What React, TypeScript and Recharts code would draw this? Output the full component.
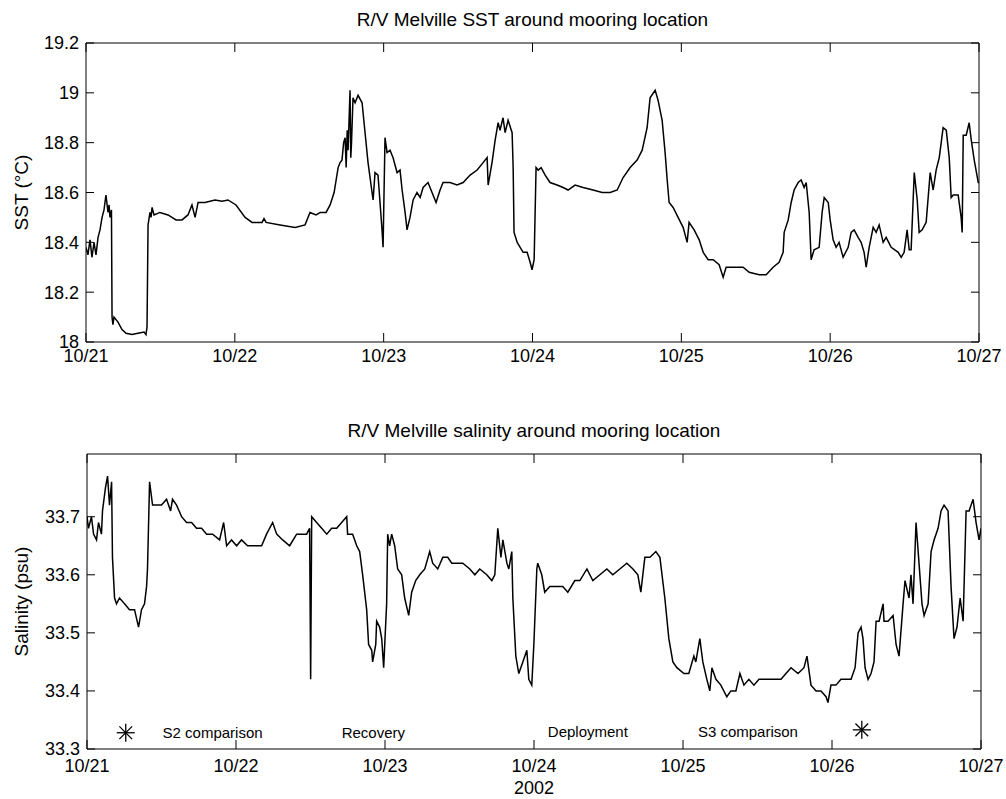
import { LineChart, ComposedChart, Line, Scatter, XAxis, YAxis, Label } from "recharts";

// time in days after 10/21 00:00 (2002)
const dayTicks = [0, 1, 2, 3, 4, 5, 6];
const dayLabels = ["10/21", "10/22", "10/23", "10/24", "10/25", "10/26", "10/27"];

const sstTicks = [18, 18.2, 18.4, 18.6, 18.8, 19, 19.2];
const salTicks = [33.3, 33.4, 33.5, 33.6, 33.7];

const sstDay = [
  0, 0.013, 0.027, 0.04, 0.054, 0.067, 0.081, 0.094, 0.108, 0.121, 0.134, 0.148, 0.155, 0.161, 0.171,
  0.175, 0.181, 0.188, 0.215, 0.242, 0.269, 0.309, 0.349, 0.39, 0.403, 0.41, 0.417, 0.43, 0.437, 0.444,
  0.457, 0.497, 0.551, 0.605, 0.645, 0.685, 0.712, 0.733, 0.753, 0.8, 0.867, 0.914, 0.954, 1.008, 1.069,
  1.116, 1.183, 1.196, 1.21, 1.304, 1.405, 1.472, 1.505, 1.546, 1.573, 1.613, 1.64, 1.667, 1.694, 1.707,
  1.72, 1.731, 1.741, 1.748, 1.755, 1.761, 1.768, 1.774, 1.779, 1.784, 1.794, 1.808, 1.828, 1.855, 1.875,
  1.895, 1.922, 1.929, 1.942, 1.962, 1.989, 1.996, 2.009, 2.023, 2.043, 2.063, 2.09, 2.11, 2.124, 2.144,
  2.157, 2.177, 2.198, 2.224, 2.245, 2.265, 2.298, 2.325, 2.352, 2.379, 2.399, 2.446, 2.493, 2.534, 2.581,
  2.628, 2.668, 2.695, 2.702, 2.728, 2.749, 2.769, 2.782, 2.802, 2.816, 2.836, 2.863, 2.87, 2.876, 2.897,
  2.917, 2.937, 2.964, 2.984, 2.997, 3.011, 3.024, 3.038, 3.058, 3.085, 3.118, 3.165, 3.206, 3.239, 3.286,
  3.34, 3.407, 3.468, 3.522, 3.569, 3.609, 3.656, 3.703, 3.737, 3.77, 3.79, 3.824, 3.844, 3.871, 3.891,
  3.905, 3.918, 3.945, 3.978, 4.012, 4.039, 4.052, 4.086, 4.12, 4.147, 4.18, 4.214, 4.254, 4.281, 4.301,
  4.355, 4.415, 4.456, 4.523, 4.57, 4.617, 4.657, 4.684, 4.691, 4.718, 4.738, 4.758, 4.785, 4.805, 4.825,
  4.839, 4.859, 4.872, 4.892, 4.926, 4.946, 4.96, 4.987, 5.0, 5.02, 5.04, 5.06, 5.087, 5.121, 5.141,
  5.161, 5.188, 5.208, 5.228, 5.242, 5.262, 5.289, 5.309, 5.329, 5.356, 5.376, 5.41, 5.457, 5.477, 5.497,
  5.517, 5.531, 5.544, 5.565, 5.585, 5.598, 5.618, 5.645, 5.672, 5.692, 5.712, 5.733, 5.759, 5.78, 5.8,
  5.813, 5.827, 5.86, 5.88, 5.887, 5.894, 5.914, 5.934, 5.948, 5.968, 5.995, 6.0,
];
const sstValue = [
  18.38, 18.35, 18.41, 18.34, 18.4, 18.35, 18.42, 18.45, 18.5, 18.53, 18.59, 18.52, 18.55, 18.5, 18.53,
  18.1, 18.07, 18.1, 18.08, 18.05, 18.035, 18.03, 18.035, 18.04, 18.03, 18.06, 18.47, 18.52, 18.5, 18.54,
  18.51, 18.52, 18.51, 18.49, 18.49, 18.51, 18.55, 18.5, 18.56, 18.56, 18.57, 18.565, 18.57, 18.55, 18.5,
  18.48, 18.48, 18.495, 18.48, 18.47, 18.46, 18.47, 18.52, 18.51, 18.52, 18.52, 18.55, 18.6, 18.7, 18.72,
  18.73, 18.8, 18.82, 18.7, 18.85, 18.77, 18.9, 19.01, 18.74, 18.8, 18.98, 18.96, 18.99, 18.96, 18.84,
  18.72, 18.6, 18.57, 18.68, 18.67, 18.45, 18.38, 18.82, 18.76, 18.77, 18.74, 18.68, 18.69, 18.61, 18.52,
  18.45, 18.5, 18.57, 18.6, 18.58, 18.62, 18.64, 18.6, 18.56, 18.61, 18.64, 18.64, 18.63, 18.64, 18.67,
  18.69, 18.72, 18.74, 18.63, 18.72, 18.81, 18.88, 18.85, 18.9, 18.84, 18.89, 18.84, 18.7, 18.44, 18.4,
  18.38, 18.36, 18.36, 18.32, 18.29, 18.33, 18.7, 18.69, 18.7, 18.67, 18.64, 18.63, 18.62, 18.61, 18.63,
  18.62, 18.61, 18.6, 18.6, 18.61, 18.66, 18.7, 18.73, 18.77, 18.86, 18.98, 19.01, 18.97, 18.89, 18.76,
  18.65, 18.56, 18.54, 18.5, 18.46, 18.4, 18.48, 18.45, 18.41, 18.36, 18.33, 18.33, 18.31, 18.26, 18.3,
  18.3, 18.3, 18.28, 18.27, 18.27, 18.3, 18.32, 18.36, 18.44, 18.49, 18.56, 18.61, 18.64, 18.65, 18.62,
  18.64, 18.52, 18.33, 18.37, 18.38, 18.52, 18.58, 18.56, 18.49, 18.41, 18.38, 18.4, 18.34, 18.38, 18.44,
  18.45, 18.42, 18.4, 18.36, 18.3, 18.38, 18.46, 18.44, 18.47, 18.4, 18.42, 18.38, 18.36, 18.34, 18.36,
  18.45, 18.37, 18.37, 18.68, 18.57, 18.44, 18.45, 18.48, 18.68, 18.61, 18.69, 18.74, 18.86, 18.85, 18.74,
  18.58, 18.59, 18.59, 18.5, 18.44, 18.83, 18.83, 18.88, 18.81, 18.73, 18.64, 18.64,
];

const salDay = [
  0, 0.01, 0.03, 0.044, 0.064, 0.077, 0.097, 0.104, 0.124, 0.138, 0.151, 0.165, 0.171, 0.185, 0.198,
  0.218, 0.252, 0.285, 0.319, 0.346, 0.366, 0.386, 0.4, 0.406, 0.42, 0.44, 0.467, 0.5, 0.534, 0.561,
  0.574, 0.601, 0.635, 0.668, 0.702, 0.735, 0.769, 0.803, 0.843, 0.89, 0.917, 0.937, 0.97, 1.004, 1.037,
  1.078, 1.125, 1.172, 1.205, 1.246, 1.273, 1.313, 1.36, 1.407, 1.441, 1.474, 1.494, 1.501, 1.508, 1.541,
  1.575, 1.609, 1.642, 1.676, 1.709, 1.743, 1.749, 1.783, 1.81, 1.83, 1.85, 1.877, 1.89, 1.911, 1.917,
  1.938, 1.944, 1.964, 1.978, 1.991, 2.011, 2.018, 2.031, 2.045, 2.065, 2.085, 2.112, 2.132, 2.159, 2.179,
  2.206, 2.233, 2.267, 2.3, 2.32, 2.354, 2.388, 2.421, 2.448, 2.482, 2.522, 2.569, 2.603, 2.636, 2.683,
  2.717, 2.737, 2.757, 2.778, 2.791, 2.818, 2.831, 2.851, 2.858, 2.878, 2.898, 2.925, 2.952, 2.965, 2.985,
  2.999, 3.019, 3.025, 3.052, 3.072, 3.106, 3.153, 3.193, 3.227, 3.274, 3.308, 3.355, 3.395, 3.442, 3.489,
  3.529, 3.576, 3.623, 3.664, 3.697, 3.717, 3.744, 3.778, 3.818, 3.845, 3.878, 3.905, 3.932, 3.959, 4.006,
  4.039, 4.073, 4.086, 4.113, 4.133, 4.16, 4.18, 4.194, 4.221, 4.254, 4.294, 4.321, 4.355, 4.382, 4.409,
  4.442, 4.476, 4.51, 4.557, 4.59, 4.624, 4.658, 4.691, 4.725, 4.772, 4.812, 4.832, 4.859, 4.893, 4.926,
  4.96, 4.973, 4.993, 5.027, 5.06, 5.094, 5.128, 5.155, 5.175, 5.195, 5.208, 5.222, 5.242, 5.262, 5.282,
  5.296, 5.316, 5.343, 5.349, 5.376, 5.41, 5.43, 5.45, 5.477, 5.49, 5.517, 5.53, 5.544, 5.564, 5.584,
  5.604, 5.618, 5.645, 5.665, 5.685, 5.712, 5.732, 5.752, 5.779, 5.799, 5.819, 5.839, 5.86, 5.88, 5.9,
  5.92, 5.947, 5.967, 5.987, 6.0,
];
const salValue = [
  33.7, 33.68, 33.7, 33.67, 33.66, 33.69, 33.67, 33.71, 33.75, 33.77, 33.72, 33.76, 33.63, 33.56, 33.55,
  33.56, 33.55, 33.54, 33.54, 33.51, 33.54, 33.55, 33.58, 33.61, 33.76, 33.72, 33.72, 33.72, 33.73, 33.71,
  33.73, 33.72, 33.7, 33.69, 33.69, 33.68, 33.68, 33.67, 33.67, 33.66, 33.69, 33.65, 33.66, 33.65, 33.66,
  33.65, 33.65, 33.65, 33.67, 33.69, 33.67, 33.66, 33.65, 33.67, 33.67, 33.67, 33.68, 33.42, 33.7, 33.69,
  33.68, 33.67, 33.68, 33.68, 33.69, 33.7, 33.67, 33.67, 33.65, 33.64, 33.6, 33.54, 33.48, 33.47, 33.45,
  33.48, 33.52, 33.51, 33.49, 33.44, 33.55, 33.67, 33.65, 33.67, 33.65, 33.61, 33.6, 33.56, 33.53, 33.57,
  33.59, 33.6, 33.61, 33.64, 33.62, 33.61, 33.63, 33.63, 33.62, 33.62, 33.62, 33.61, 33.6, 33.61, 33.6,
  33.59, 33.6, 33.68, 33.63, 33.66, 33.62, 33.61, 33.64, 33.56, 33.46, 33.43, 33.45, 33.47, 33.42, 33.41,
  33.48, 33.61, 33.62, 33.6, 33.57, 33.58, 33.58, 33.58, 33.57, 33.59, 33.59, 33.61, 33.59, 33.6, 33.61,
  33.6, 33.61, 33.62, 33.61, 33.6, 33.57, 33.63, 33.63, 33.64, 33.63, 33.56, 33.49, 33.45, 33.44, 33.43,
  33.43, 33.46, 33.45, 33.49, 33.45, 33.42, 33.4, 33.44, 33.42, 33.41, 33.39, 33.4, 33.4, 33.43, 33.41,
  33.42, 33.41, 33.42, 33.42, 33.42, 33.42, 33.42, 33.43, 33.44, 33.43, 33.44, 33.46, 33.41, 33.4, 33.4,
  33.39, 33.38, 33.41, 33.41, 33.42, 33.42, 33.42, 33.44, 33.5, 33.51, 33.49, 33.44, 33.42, 33.43, 33.45,
  33.52, 33.52, 33.55, 33.52, 33.52, 33.53, 33.48, 33.46, 33.55, 33.59, 33.56, 33.6, 33.55, 33.69, 33.62,
  33.55, 33.53, 33.55, 33.64, 33.66, 33.68, 33.71, 33.72, 33.71, 33.58, 33.49, 33.51, 33.56, 33.52, 33.71,
  33.71, 33.73, 33.69, 33.66, 33.68,
];

// comparison markers (asterisks) and event notes on the salinity panel
const markerDay = [0.26, 5.2];
const markerValue = [33.328, 33.333];
const noteText = ["S2 comparison", "Recovery", "Deployment", "S3 comparison"];
const noteDay = [0.507, 1.709, 3.093, 4.1];
const noteValue = [33.328, 33.328, 33.33, 33.33];

const FONT = "'Liberation Sans', Arial, Helvetica, sans-serif";

const sstData = sstDay.map((d, i) => ({ day: d, value: sstValue[i] }));
const salData = salDay.map((d, i) => ({ day: d, value: salValue[i] }));
const markerData = markerDay.map((d, i) => ({ day: d, value: markerValue[i] }));
const noteData = noteDay.map((d, i) => ({ day: d, value: noteValue[i], label: noteText[i] }));

const tickStyle = { fill: "#000", fontSize: 18, fontFamily: FONT };
const fmtDay = (d: number) => dayLabels[d] ?? "";

const Asterisk = (p: any) => {
  const r = 9;
  const k = r * 0.707;
  return (
    <g stroke="#000" strokeWidth={1.3}>
      <line x1={p.cx - r} y1={p.cy} x2={p.cx + r} y2={p.cy} />
      <line x1={p.cx} y1={p.cy - r} x2={p.cx} y2={p.cy + r} />
      <line x1={p.cx - k} y1={p.cy - k} x2={p.cx + k} y2={p.cy + k} />
      <line x1={p.cx - k} y1={p.cy + k} x2={p.cx + k} y2={p.cy - k} />
    </g>
  );
};

const NoteText = (p: any) => (
  <text x={p.cx} y={p.cy} dy="0.35em" fontSize={15} fontFamily={FONT} fill="#000">
    {p.payload.label}
  </text>
);

const yTitle = (text: string) => (props: any) => {
  const vb = props.viewBox;
  const cy = vb.y + vb.height / 2;
  return (
    <text
      x={21}
      y={cy}
      transform={`rotate(-90, 21, ${cy})`}
      textAnchor="middle"
      dominantBaseline="central"
      fontSize={19}
      fontFamily={FONT}
      fill="#000"
    >
      {text}
    </text>
  );
};

const frameAxes = (
  ticksY: number[],
  domainY: [number, number],
  xMargin: number,
  title: string,
  yLabel: string,
  bottomLabel?: string
) => [
  <XAxis
    key="xb"
    xAxisId="b"
    dataKey="day"
    type="number"
    domain={[0, 6]}
    ticks={dayTicks}
    interval={0}
    tickFormatter={fmtDay}
    height={1}
    stroke="#000"
    tickSize={-9}
    tickMargin={xMargin}
    tick={tickStyle}
    allowDataOverflow
  >
    {bottomLabel ? (
      <Label value={bottomLabel} position="bottom" offset={31} fill="#000" fontSize={18} fontFamily={FONT} />
    ) : null}
  </XAxis>,
  <XAxis
    key="xt"
    xAxisId="t"
    orientation="top"
    dataKey="day"
    type="number"
    domain={[0, 6]}
    ticks={dayTicks}
    interval={0}
    height={1}
    stroke="#000"
    tickSize={-9}
    tick={() => <g />}
    allowDataOverflow
  >
    <Label value={title} position="top" offset={16} fill="#000" fontSize={19} fontFamily={FONT} />
  </XAxis>,
  <YAxis
    key="yl"
    yAxisId="l"
    type="number"
    domain={domainY}
    ticks={ticksY}
    interval={0}
    width={1}
    stroke="#000"
    tickSize={-8}
    tickMargin={15}
    tick={tickStyle}
    allowDataOverflow
  >
    <Label content={yTitle(yLabel)} />
  </YAxis>,
  <YAxis
    key="yr"
    yAxisId="r"
    orientation="right"
    type="number"
    domain={domainY}
    ticks={ticksY}
    interval={0}
    width={1}
    stroke="#000"
    tickSize={-8}
    tick={() => <g />}
    allowDataOverflow
  />,
];

export default function App() {
  return (
    <div style={{ position: "absolute", left: 0, top: 0, width: 1006, height: 799, background: "#fff" }}>
      <div style={{ position: "absolute", left: 0, top: 0 }}>
        <LineChart width={1006} height={400} data={sstData} margin={{ top: 42, right: 26, bottom: 57, left: 85 }}>
          {frameAxes(sstTicks, [18, 19.2], 16, "R/V Melville SST around mooring location", "SST (°C)")}
          <Line
            xAxisId="b"
            yAxisId="l"
            dataKey="value"
            stroke="#000"
            strokeWidth={1.5}
            dot={false}
            isAnimationActive={false}
          />
        </LineChart>
      </div>
      <div style={{ position: "absolute", left: 0, top: 400 }}>
        <ComposedChart width={1006} height={399} data={salData} margin={{ top: 53, right: 24, bottom: 49, left: 86 }}>
          {frameAxes(
            salTicks,
            [33.3, 33.808],
            19,
            "R/V Melville salinity around mooring location",
            "Salinity (psu)",
            "2002"
          )}
          <Line
            xAxisId="b"
            yAxisId="l"
            dataKey="value"
            stroke="#000"
            strokeWidth={1.5}
            dot={false}
            isAnimationActive={false}
          />
          <Scatter
            xAxisId="b"
            yAxisId="l"
            data={markerData}
            dataKey="value"
            shape={Asterisk}
            isAnimationActive={false}
          />
          <Scatter
            xAxisId="b"
            yAxisId="l"
            data={noteData}
            dataKey="value"
            shape={NoteText}
            isAnimationActive={false}
          />
        </ComposedChart>
      </div>
    </div>
  );
}
